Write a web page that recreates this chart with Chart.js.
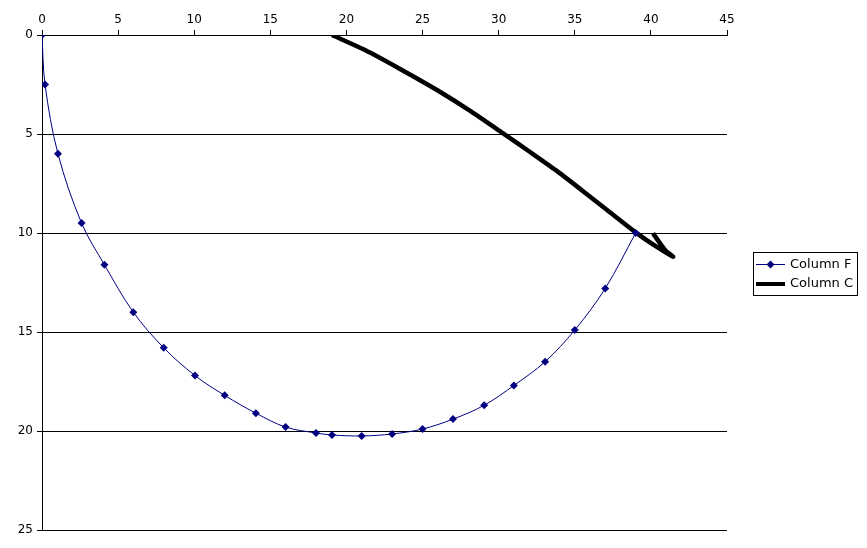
<!DOCTYPE html>
<html>
<head>
<meta charset="utf-8">
<script src="https://cdn.jsdelivr.net/npm/chart.js@4.4.0/dist/chart.umd.min.js"></script>
<style>
  html, body { margin: 0; padding: 0; background: #fff; }
  #wrap { width: 867px; height: 548px; }
</style>
</head>
<body>
<div id="wrap"><canvas id="chart" width="867" height="548"></canvas></div>
<script>
// Column F (diamond markers)
const colFx = [0, 0.2, 1.05, 2.6, 4.1, 6.0, 8.0, 10.05, 12.0, 14.05, 16.0, 18.0, 19.05, 21.0, 23.0, 25.0, 27.0, 29.05, 31.0, 33.05, 35.0, 37.0, 39.0];
const colFy = [0, 2.5, 6.0, 9.5, 11.6, 14.0, 15.8, 17.2, 18.2, 19.1, 19.8, 20.1, 20.2, 20.25, 20.15, 19.9, 19.4, 18.7, 17.7, 16.5, 14.9, 12.8, 10.0];

// Column C (thick black line)
const colCx = [19.05, 21.22, 23.58, 25.95, 28.18, 30.29, 32.06, 33.77, 35.48, 37.12, 39.09, 40.34, 41.46, 40.93, 40.14];
const colCy = [0, 0.76, 1.74, 2.78, 3.86, 4.97, 5.91, 6.84, 7.85, 8.84, 10.02, 10.68, 11.20, 10.86, 10.02];

const seriesNames = ['Column F', 'Column C'];
const xTicks = [0, 5, 10, 15, 20, 25, 30, 35, 40, 45];
const yTicks = [0, 5, 10, 15, 20, 25];

const navy = '#000080';
const toPoints = (xs, ys) => xs.map((x, i) => ({ x: x, y: ys[i] }));

// draws the boxed legend on the right
const legendBox = {
    id: 'legendBox',
    afterDraw(chart) {
        const ctx = chart.ctx;
        ctx.save();
        ctx.strokeStyle = '#000';
        ctx.lineWidth = 1;
        ctx.strokeRect(753.5, 252.5, 104, 43);

        // Column F swatch
        ctx.strokeStyle = navy;
        ctx.beginPath();
        ctx.moveTo(756, 264.5);
        ctx.lineTo(785, 264.5);
        ctx.stroke();
        ctx.fillStyle = navy;
        ctx.beginPath();
        ctx.moveTo(770.5, 260.5);
        ctx.lineTo(774.5, 264.5);
        ctx.lineTo(770.5, 268.5);
        ctx.lineTo(766.5, 264.5);
        ctx.closePath();
        ctx.fill();

        // Column C swatch
        ctx.fillStyle = '#000';
        ctx.fillRect(756, 282, 29, 4);

        ctx.font = '13px "DejaVu Sans"';
        ctx.textBaseline = 'middle';
        ctx.fillStyle = '#000';
        ctx.fillText(seriesNames[0], 790, 264.5);
        ctx.fillText(seriesNames[1], 790, 284);
        ctx.restore();
    }
};

new Chart(document.getElementById('chart').getContext('2d'), {
    type: 'scatter',
    data: {
        datasets: [{
            label: seriesNames[0],
            data: toPoints(colFx, colFy),
            showLine: true,
            borderColor: navy,
            borderWidth: 1,
            backgroundColor: navy,
            pointStyle: 'rectRot',
            pointRadius: 4,
            pointBorderWidth: 0,
            tension: 0.35
        }, {
            label: seriesNames[1],
            data: toPoints(colCx, colCy),
            showLine: true,
            borderColor: '#000',
            borderWidth: 4.5,
            borderJoinStyle: 'round',
            pointRadius: 0,
            tension: 0.25
        }]
    },
    options: {
        responsive: false,
        animation: false,
        layout: { padding: { left: 0, top: 0, right: 140, bottom: 18 } },
        plugins: {
            legend: { display: false },
            tooltip: { enabled: false }
        },
        scales: {
            x: {
                type: 'linear',
                position: 'top',
                min: 0,
                max: 45,
                afterBuildTicks: (scale) => { scale.ticks = xTicks.map(v => ({ value: v })); },
                afterFit: (scale) => { scale.height = 35; },
                grid: { drawOnChartArea: false, drawTicks: true, tickLength: 5, color: '#000' },
                border: { display: true, color: '#000' },
                ticks: { color: '#000', padding: 3, font: { family: 'DejaVu Sans', size: 12 } }
            },
            y: {
                type: 'linear',
                reverse: true,
                min: 0,
                max: 25,
                afterBuildTicks: (scale) => { scale.ticks = yTicks.map(v => ({ value: v })); },
                afterFit: (scale) => { scale.width = 42; },
                grid: { color: '#000', lineWidth: 1, tickLength: 5 },
                border: { display: true, color: '#000' },
                ticks: { color: '#000', padding: 4, font: { family: 'DejaVu Sans', size: 12 } }
            }
        }
    },
    plugins: [legendBox]
});
</script>
</body>
</html>
